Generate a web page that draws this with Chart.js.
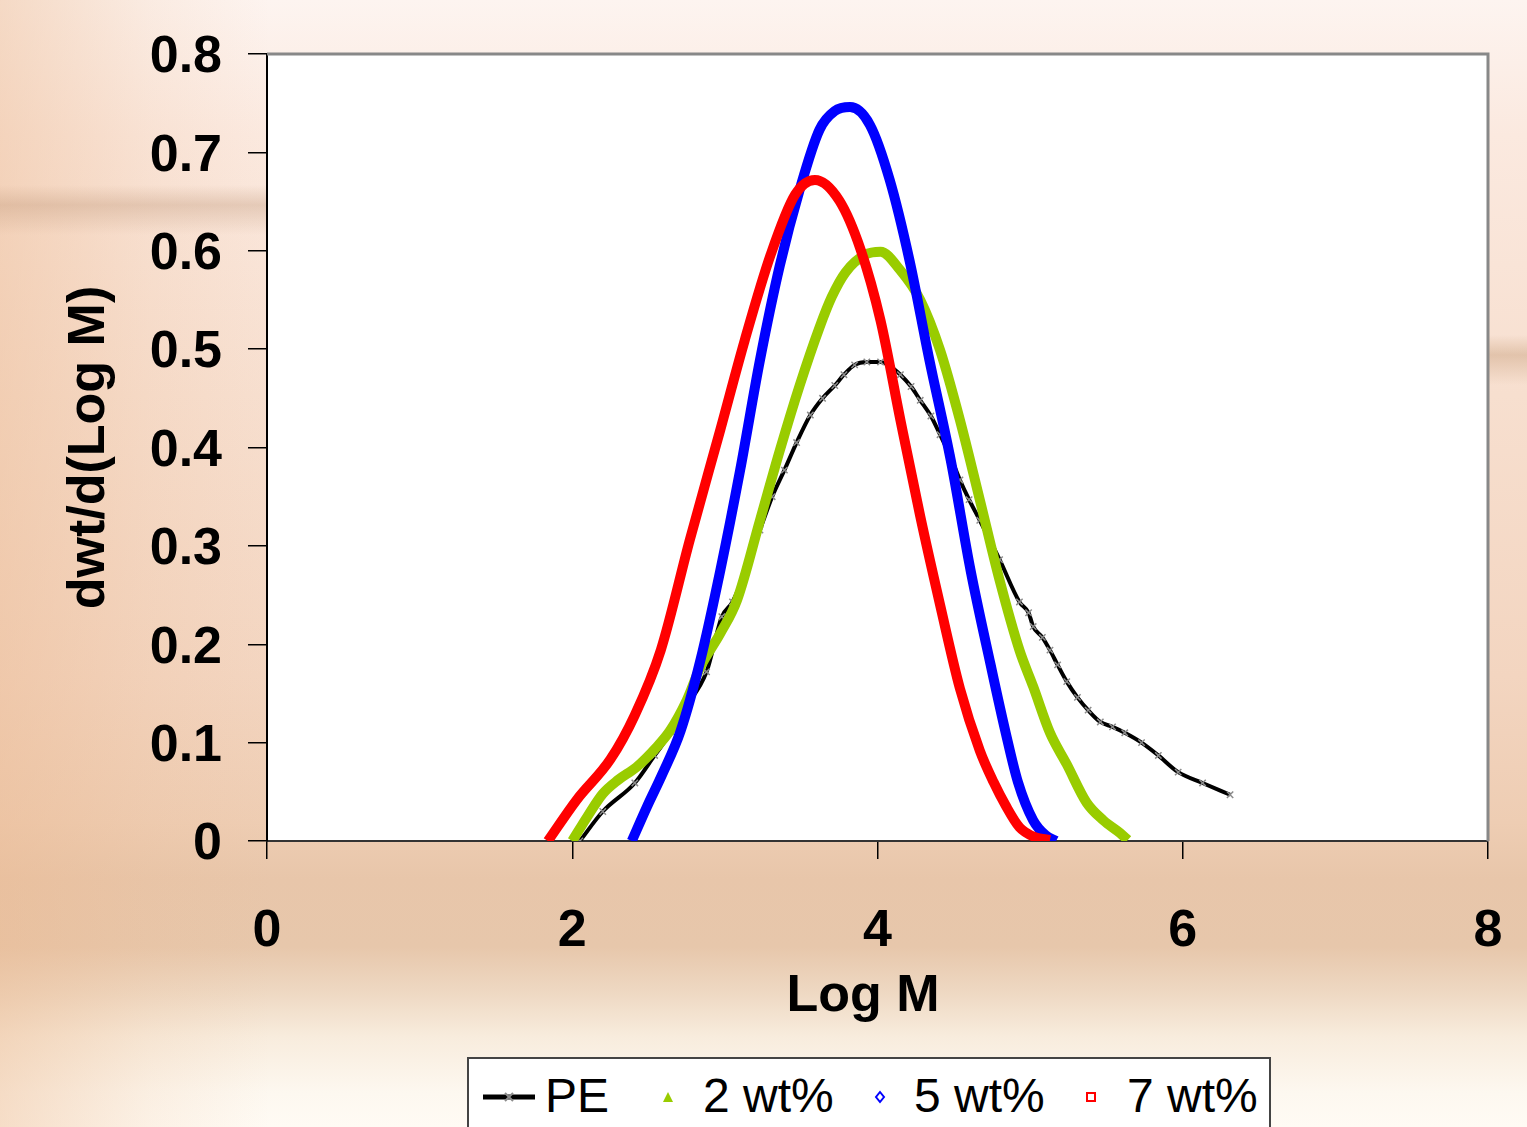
<!DOCTYPE html>
<html>
<head>
<meta charset="utf-8">
<script src="https://cdn.jsdelivr.net/npm/chart.js@4.4.1/dist/chart.umd.min.js"></script>
<style>
    html, body { margin: 0; padding: 0; }
    body {
        width: 1527px; height: 1127px; overflow: hidden; position: relative;
        font-family: "Liberation Sans", Arial, sans-serif;
        background:
            linear-gradient(to bottom, rgba(0,0,0,0) 185px, rgba(190,150,120,0.35) 205px, rgba(0,0,0,0) 235px) 0 0 / 270px 100% no-repeat,
            linear-gradient(to bottom, rgba(0,0,0,0) 335px, rgba(200,160,125,0.45) 355px, rgba(0,0,0,0) 385px) 1488px 0 / 39px 100% no-repeat,
            linear-gradient(to right, rgba(235,185,145,0.45) 0, rgba(235,185,145,0.15) 150px, rgba(235,185,145,0) 270px),
            linear-gradient(to bottom, #fdf4f0 0, #fbe9df 12%, #f7dfcf 35%, #f3d5c0 60%, #eecdb3 73%, #e8c6aa 78%, #e7c7ab 84%, #eed8c2 88%, #f8ecdd 92%, #fdf8f0 97%, #fffbf4 100%);
    }
    #wrap { position: absolute; left: 0; top: 0; width: 1527px; height: 1127px; }
    #legend {
        position: absolute; left: 467px; top: 1057px; width: 804px; height: 90px;
        background: #fff; border: 2px solid #444; box-sizing: border-box;
    }
    #legend .lbl { position: absolute; top: 13px; font-size: 48px; line-height: 48px; color: #000; white-space: nowrap; }
    #legend svg { position: absolute; }
</style>
</head>
<body>
<div id="wrap"><canvas id="chart" width="1527" height="1127"></canvas></div>
<div id="legend"></div>
<script>
// PE
const peLogM = [2.05, 2.20, 2.41, 2.54, 2.65, 2.73, 2.88, 2.98, 3.05, 3.15, 3.23, 3.31, 3.39, 3.47, 3.56, 3.64, 3.72, 3.78, 3.85, 3.93, 4.02, 4.08, 4.15, 4.22, 4.28, 4.35, 4.41, 4.48, 4.54, 4.60, 4.67, 4.80, 4.93, 4.99, 5.02, 5.08, 5.13, 5.18, 5.24, 5.31, 5.38, 5.46, 5.54, 5.62, 5.73, 5.84, 5.97, 6.13, 6.31];
const peVal = [0, 0.030, 0.059, 0.087, 0.111, 0.133, 0.172, 0.228, 0.243, 0.280, 0.316, 0.350, 0.377, 0.405, 0.433, 0.450, 0.463, 0.474, 0.484, 0.487, 0.487, 0.483, 0.474, 0.462, 0.448, 0.432, 0.413, 0.390, 0.367, 0.347, 0.326, 0.286, 0.243, 0.232, 0.218, 0.207, 0.194, 0.179, 0.162, 0.146, 0.133, 0.121, 0.116, 0.110, 0.100, 0.087, 0.070, 0.059, 0.047];

// 2 wt%
const w2LogM = [2.00, 2.10, 2.20, 2.30, 2.42, 2.55, 2.64, 2.75, 2.84, 2.97, 3.08, 3.23, 3.36, 3.49, 3.62, 3.70, 3.79, 3.92, 4.02, 4.15, 4.28, 4.41, 4.54, 4.67, 4.80, 4.93, 5.02, 5.13, 5.24, 5.37, 5.48, 5.59, 5.64];
const w2Val = [0, 0.025, 0.048, 0.062, 0.075, 0.095, 0.112, 0.143, 0.177, 0.211, 0.245, 0.326, 0.397, 0.463, 0.522, 0.553, 0.578, 0.596, 0.599, 0.580, 0.550, 0.499, 0.428, 0.347, 0.265, 0.194, 0.157, 0.110, 0.078, 0.039, 0.021, 0.008, 0.001];

// 5 wt%
const w5LogM = [2.39, 2.49, 2.59, 2.71, 2.84, 2.97, 3.10, 3.23, 3.36, 3.49, 3.62, 3.72, 3.82, 3.95, 4.08, 4.21, 4.34, 4.48, 4.61, 4.74, 4.84, 4.92, 5.02, 5.10, 5.17];
const w5Val = [0, 0.035, 0.068, 0.112, 0.184, 0.275, 0.377, 0.489, 0.585, 0.662, 0.723, 0.742, 0.746, 0.728, 0.672, 0.590, 0.489, 0.387, 0.275, 0.180, 0.110, 0.060, 0.021, 0.006, 0];

// 7 wt%
const w7LogM = [1.84, 2.03, 2.25, 2.41, 2.58, 2.77, 2.97, 3.13, 3.30, 3.46, 3.59, 3.75, 3.89, 4.02, 4.15, 4.28, 4.41, 4.54, 4.67, 4.76, 4.84, 4.93, 5.03, 5.13];
const w7Val = [0, 0.042, 0.083, 0.128, 0.194, 0.306, 0.418, 0.509, 0.596, 0.657, 0.672, 0.651, 0.601, 0.529, 0.428, 0.330, 0.240, 0.155, 0.092, 0.060, 0.036, 0.014, 0.004, 0.001];

const seriesNames = ["PE", "2 wt%", "5 wt%", "7 wt%"];
const xTicks = [0, 2, 4, 6, 8];
const yTickLabels = ["0", "0.1", "0.2", "0.3", "0.4", "0.5", "0.6", "0.7", "0.8"];

function pts(xs, ys) {
    return xs.map((x, i) => ({ x: x, y: ys[i] }));
}

const plotFrame = {
    id: 'plotFrame',
    beforeDraw(chart) {
        const a = chart.chartArea, ctx = chart.ctx;
        ctx.save();
        ctx.fillStyle = '#ffffff';
        ctx.fillRect(a.left, a.top, a.right - a.left, a.bottom - a.top);
        ctx.restore();
    },
    afterDraw(chart) {
        const a = chart.chartArea, ctx = chart.ctx;
        ctx.save();
        ctx.strokeStyle = '#888888';
        ctx.lineWidth = 3;
        ctx.beginPath();
        ctx.moveTo(a.left, a.top);
        ctx.lineTo(a.right, a.top);
        ctx.lineTo(a.right, a.bottom);
        ctx.stroke();
        ctx.restore();
    }
};

const tickFont = { family: "'Liberation Sans', Arial, sans-serif", size: 52, weight: 'bold' };

new Chart(document.getElementById('chart'), {
    type: 'scatter',
    data: {
        datasets: [
            {
                label: seriesNames[0], data: pts(peLogM, peVal), showLine: true, order: 4,
                borderColor: '#000000', borderWidth: 4, cubicInterpolationMode: 'monotone',
                pointStyle: 'crossRot', pointRadius: 4.5, pointBorderColor: '#8c8c8c', pointBorderWidth: 1.5
            },
            {
                label: seriesNames[1], data: pts(w2LogM, w2Val), showLine: true, order: 3,
                borderColor: '#99cc00', borderWidth: 10, cubicInterpolationMode: 'monotone', pointRadius: 0
            },
            {
                label: seriesNames[2], data: pts(w5LogM, w5Val), showLine: true, order: 2,
                borderColor: '#0000ff', borderWidth: 10, cubicInterpolationMode: 'monotone', pointRadius: 0
            },
            {
                label: seriesNames[3], data: pts(w7LogM, w7Val), showLine: true, order: 1,
                borderColor: '#ff0000', borderWidth: 10, cubicInterpolationMode: 'monotone', pointRadius: 0
            }
        ]
    },
    options: {
        responsive: false,
        animation: false,
        layout: { padding: { top: 54, right: 39, left: 0, bottom: 0 } },
        plugins: { legend: { display: false }, tooltip: { enabled: false } },
        scales: {
            x: {
                type: 'linear', min: 0, max: 8,
                afterFit(scale) { scale.height = 286; scale.paddingLeft = 0; scale.paddingRight = 0; },
                afterBuildTicks(scale) { scale.ticks = xTicks.map(v => ({ value: v })); },
                grid: { drawOnChartArea: false, drawTicks: true, tickLength: 18, color: '#000', lineWidth: 1.5 },
                border: { color: '#333', width: 2 },
                ticks: { color: '#000', font: tickFont, padding: 41, maxRotation: 0 },
                title: { display: true, text: 'Log M  ', color: '#000', font: tickFont, padding: { top: 0, bottom: 99 } }
            },
            y: {
                min: 0, max: 0.8,
                afterFit(scale) { scale.width = 267; scale.paddingTop = 0; scale.paddingBottom = 0; },
                ticks: {
                    stepSize: 0.1, color: '#000', font: tickFont, padding: 26, labelOffset: 4,
                    callback: (v) => yTickLabels[Math.round(v * 10)]
                },
                grid: { drawOnChartArea: false, drawTicks: true, tickLength: 19, color: '#000', lineWidth: 1.5 },
                border: { color: '#000', width: 2 },
                title: { display: true, text: 'dwt/d(Log M)', color: '#000', font: tickFont, padding: { top: 58, bottom: 0 } }
            }
        }
    },
    plugins: [plotFrame]
});

// legend
const legend = document.getElementById('legend');
const items = [
    { text: seriesNames[0], textLeft: 76, icon: '<svg style="left:12px;top:26px" width="56" height="24"><line x1="2" y1="12" x2="54" y2="12" stroke="#000" stroke-width="5"/><path d="M24 8 L32 16 M32 8 L24 16" stroke="#8c8c8c" stroke-width="2"/></svg>' },
    { text: seriesNames[1], textLeft: 234, icon: '<svg style="left:191px;top:30px" width="16" height="16"><polygon points="8,3 13,13 3,13" fill="#99cc00"/></svg>' },
    { text: seriesNames[2], textLeft: 445, icon: '<svg style="left:403px;top:30px" width="16" height="16"><polygon points="8,3 12,8 8,13 4,8" fill="none" stroke="#0000ff" stroke-width="2"/></svg>' },
    { text: seriesNames[3], textLeft: 658, icon: '<svg style="left:614px;top:30px" width="16" height="16"><rect x="4" y="4" width="8" height="8" fill="none" stroke="#ff0000" stroke-width="2"/></svg>' }
];
legend.innerHTML = items.map(it =>
    `${it.icon}<span class="lbl" style="left:${it.textLeft}px">${it.text}</span>`).join("");
</script>
</body>
</html>
